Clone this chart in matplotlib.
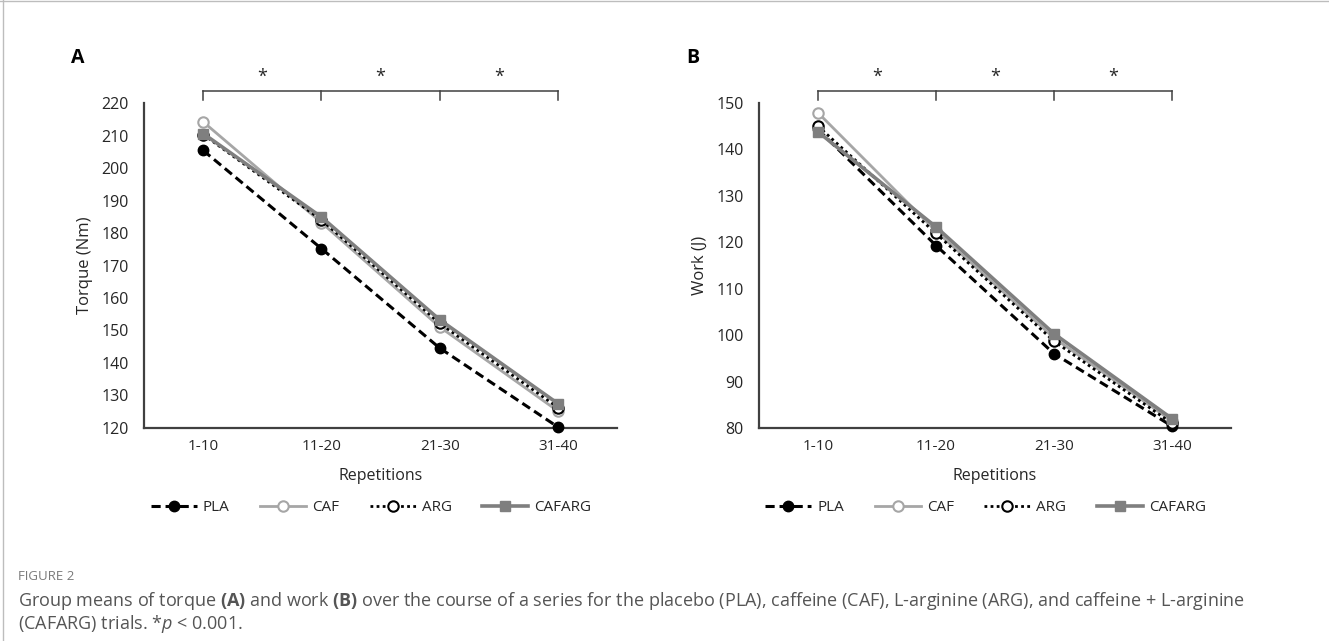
#Purpose: Group means of torque and work across repetition blocks (Figure 2 recreation)
import matplotlib
matplotlib.use('Agg')
import matplotlib.pyplot as plt
import matplotlib.transforms as mtransforms
import numpy as np

##########################################
#Data
categories = ['1-10', '11-20', '21-30', '31-40']
trials = ['PLA', 'CAF', 'ARG', 'CAFARG']

torque_PLA = [205.4, 175.2, 144.6, 120.3]
torque_CAF = [214.2, 183.2, 151.1, 125.2]
torque_ARG = [210.3, 184.0, 152.2, 126.3]
torque_CAFARG = [210.6, 184.9, 153.3, 127.5]

work_PLA = [144.3, 119.3, 96.0, 80.4]
work_CAF = [147.9, 122.4, 99.4, 81.5]
work_ARG = [145.0, 121.9, 98.7, 81.0]
work_CAFARG = [143.8, 123.3, 100.3, 82.0]

torque_ticks = [120, 130, 140, 150, 160, 170, 180, 190, 200, 210, 220]
work_ticks = [80, 90, 100, 110, 120, 130, 140, 150]

##########################################
#Style
font_name = 'Open Sans'
plt.rcParams['font.family'] = [font_name, 'DejaVu Sans']
plt.rcParams['mathtext.fontset'] = 'custom'
plt.rcParams['mathtext.rm'] = font_name
plt.rcParams['mathtext.bf'] = font_name + ':bold'
plt.rcParams['mathtext.it'] = font_name + ':italic'

txt_color = '#262626'
styles = {
	'PLA': dict(color='black', linestyle=(0, (3, 1.6)), linewidth=2.2, marker='o', markersize=7.5,
		markerfacecolor='black', markeredgecolor='black'),
	'CAF': dict(color='#a6a6a6', linestyle='-', linewidth=2.0, marker='o', markersize=7.5,
		markerfacecolor='white', markeredgecolor='#a6a6a6', markeredgewidth=1.5),
	'ARG': dict(color='black', linestyle=(0, (1, 1.2)), linewidth=2.0, marker='o', markersize=7.5,
		markerfacecolor='white', markeredgecolor='black', markeredgewidth=1.5),
	'CAFARG': dict(color='#7f7f7f', linestyle='-', linewidth=2.6, marker='s', markersize=7.5,
		markerfacecolor='#7f7f7f', markeredgecolor='#7f7f7f'),
}

fig = plt.figure(figsize=[13.29, 6.41], dpi=100)
ax_A = fig.add_axes([0.1084, 0.3323, 0.3559, 0.507])
ax_B = fig.add_axes([0.5711, 0.3323, 0.3552, 0.507])

x = np.arange(len(categories))

def pretty_panel(ax, series, yticks, ylabel, letter):
	for name, vals in zip(trials, series):
		ax.plot(x, vals, label=name, clip_on=False, zorder=3, **styles[name])
	ax.set_xlim(-0.5, len(categories) - 0.5)
	ax.set_ylim(yticks[0], yticks[-1])
	ax.set_yticks(yticks)
	ax.set_xticks(x)
	ax.set_xticklabels(categories)
	for side in ['top', 'right']:
		ax.spines[side].set_visible(False)
	for side in ['left', 'bottom']:
		ax.spines[side].set_color('#404040')
		ax.spines[side].set_linewidth(1.6)
	ax.tick_params(axis='y', length=0, pad=11, labelsize=11.5, labelcolor=txt_color)
	ax.tick_params(axis='x', length=0, pad=8, labelsize=11, labelcolor=txt_color)
	ax.set_xlabel('Repetitions', fontsize=11.5, color=txt_color, labelpad=10)
	ax.set_ylabel(ylabel, fontsize=12, color=txt_color, labelpad=6)

	#Significance brackets between consecutive blocks
	trans = mtransforms.blended_transform_factory(ax.transData, ax.transAxes)
	ax.plot([x[0], x[-1]], [1.037, 1.037], color='#404040', lw=1.1, transform=trans, clip_on=False)
	for xi in x:
		ax.plot([xi, xi], [1.009, 1.037], color='#404040', lw=1.1, transform=trans, clip_on=False)
	for xi in x[:-1]:
		ax.text(xi + 0.5, 1.08, '*', transform=trans, ha='center', va='center', fontsize=13, color=txt_color)

	ax.text(-0.155, 1.14, letter, transform=ax.transAxes, fontsize=14, fontweight='bold', ha='left', va='center')

	ax.legend(loc='center', bbox_to_anchor=(0.48, -0.245), ncol=4, frameon=False, fontsize=11,
		handlelength=3.0, columnspacing=2.0, handletextpad=0.4, labelcolor=txt_color)

pretty_panel(ax_A, [torque_PLA, torque_CAF, torque_ARG, torque_CAFARG], torque_ticks, 'Torque (Nm)', 'A')
pretty_panel(ax_B, [work_PLA, work_CAF, work_ARG, work_CAFARG], work_ticks, 'Work (J)', 'B')

#Thin frame lines at the left and top of the page
fig.add_artist(plt.Line2D([0.002, 0.002], [0, 1], color='#bdbdbd', lw=1, transform=fig.transFigure))
fig.add_artist(plt.Line2D([0, 1], [0.998, 0.998], color='#bdbdbd', lw=1, transform=fig.transFigure))

#Caption
fig.text(0.0135, 0.1, 'FIGURE 2', fontsize=9.5, color='#7a7a7a', ha='left', va='center')
fig.text(0.0135, 0.063, r'Group means of torque $\mathbf{(A)}$ and work $\mathbf{(B)}$ over the course of a series for the placebo (PLA), caffeine (CAF), L-arginine (ARG), and caffeine + L-arginine',
	fontsize=13, color='#555555', ha='left', va='center')
fig.text(0.0135, 0.027, r'(CAFARG) trials. *$\it{p}$ < 0.001.', fontsize=13, color='#555555', ha='left', va='center')

plt.savefig('out.png', dpi=100)
plt.close()
